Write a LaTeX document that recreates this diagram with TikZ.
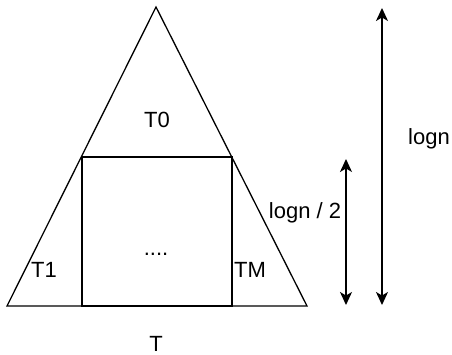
\documentclass[tikz,border=0pt]{standalone}
\usepackage{fontspec}
\setmainfont{Liberation Sans}
\usetikzlibrary{arrows.meta}
\begin{document}
\begin{tikzpicture}[x=1pt,y=-1pt,
  lbl/.style={inner sep=0pt,font=\fontsize{22}{26}\selectfont},
  shape line/.style={draw=black,line width=1.3pt,line join=miter},
  dimarrow/.style={draw=black,line width=1.3pt,{Stealth[length=13pt,width=12pt,inset=3.5pt]}-{Stealth[length=13pt,width=12pt,inset=3.5pt]}}]
\useasboundingbox (0,0) rectangle (452,355);
% triangle
\coordinate (apex) at (156,7);
\coordinate (bl) at (7,306);
\coordinate (br) at (307,306);
\draw[shape line] (apex) -- (br) -- (bl) -- cycle;
% inner rectangle
\coordinate (rtl) at (82,157);
\coordinate (rbr) at (232,306);
\draw[shape line] (rtl) rectangle (rbr);
% labels
\node[lbl] (t0) at (157,120) {T0};
\node[lbl] (t1) at (44,270) {T1};
\node[lbl] (tm) at (250,270) {TM};
\node[lbl] (dots) at (156,254) {....};
\node[lbl] (t) at (156,344) {T};
\node[lbl] (logn) at (429,139) {logn};
\node[lbl] (logn2) at (305,213) {logn / 2};
% arrows
\coordinate (sa1) at (346,159);
\coordinate (sa2) at (346,305);
\coordinate (la1) at (382,8);
\coordinate (la2) at (382,305);
\draw[dimarrow] (sa1) -- (sa2);
\draw[dimarrow] (la1) -- (la2);
\end{tikzpicture}
\end{document}
